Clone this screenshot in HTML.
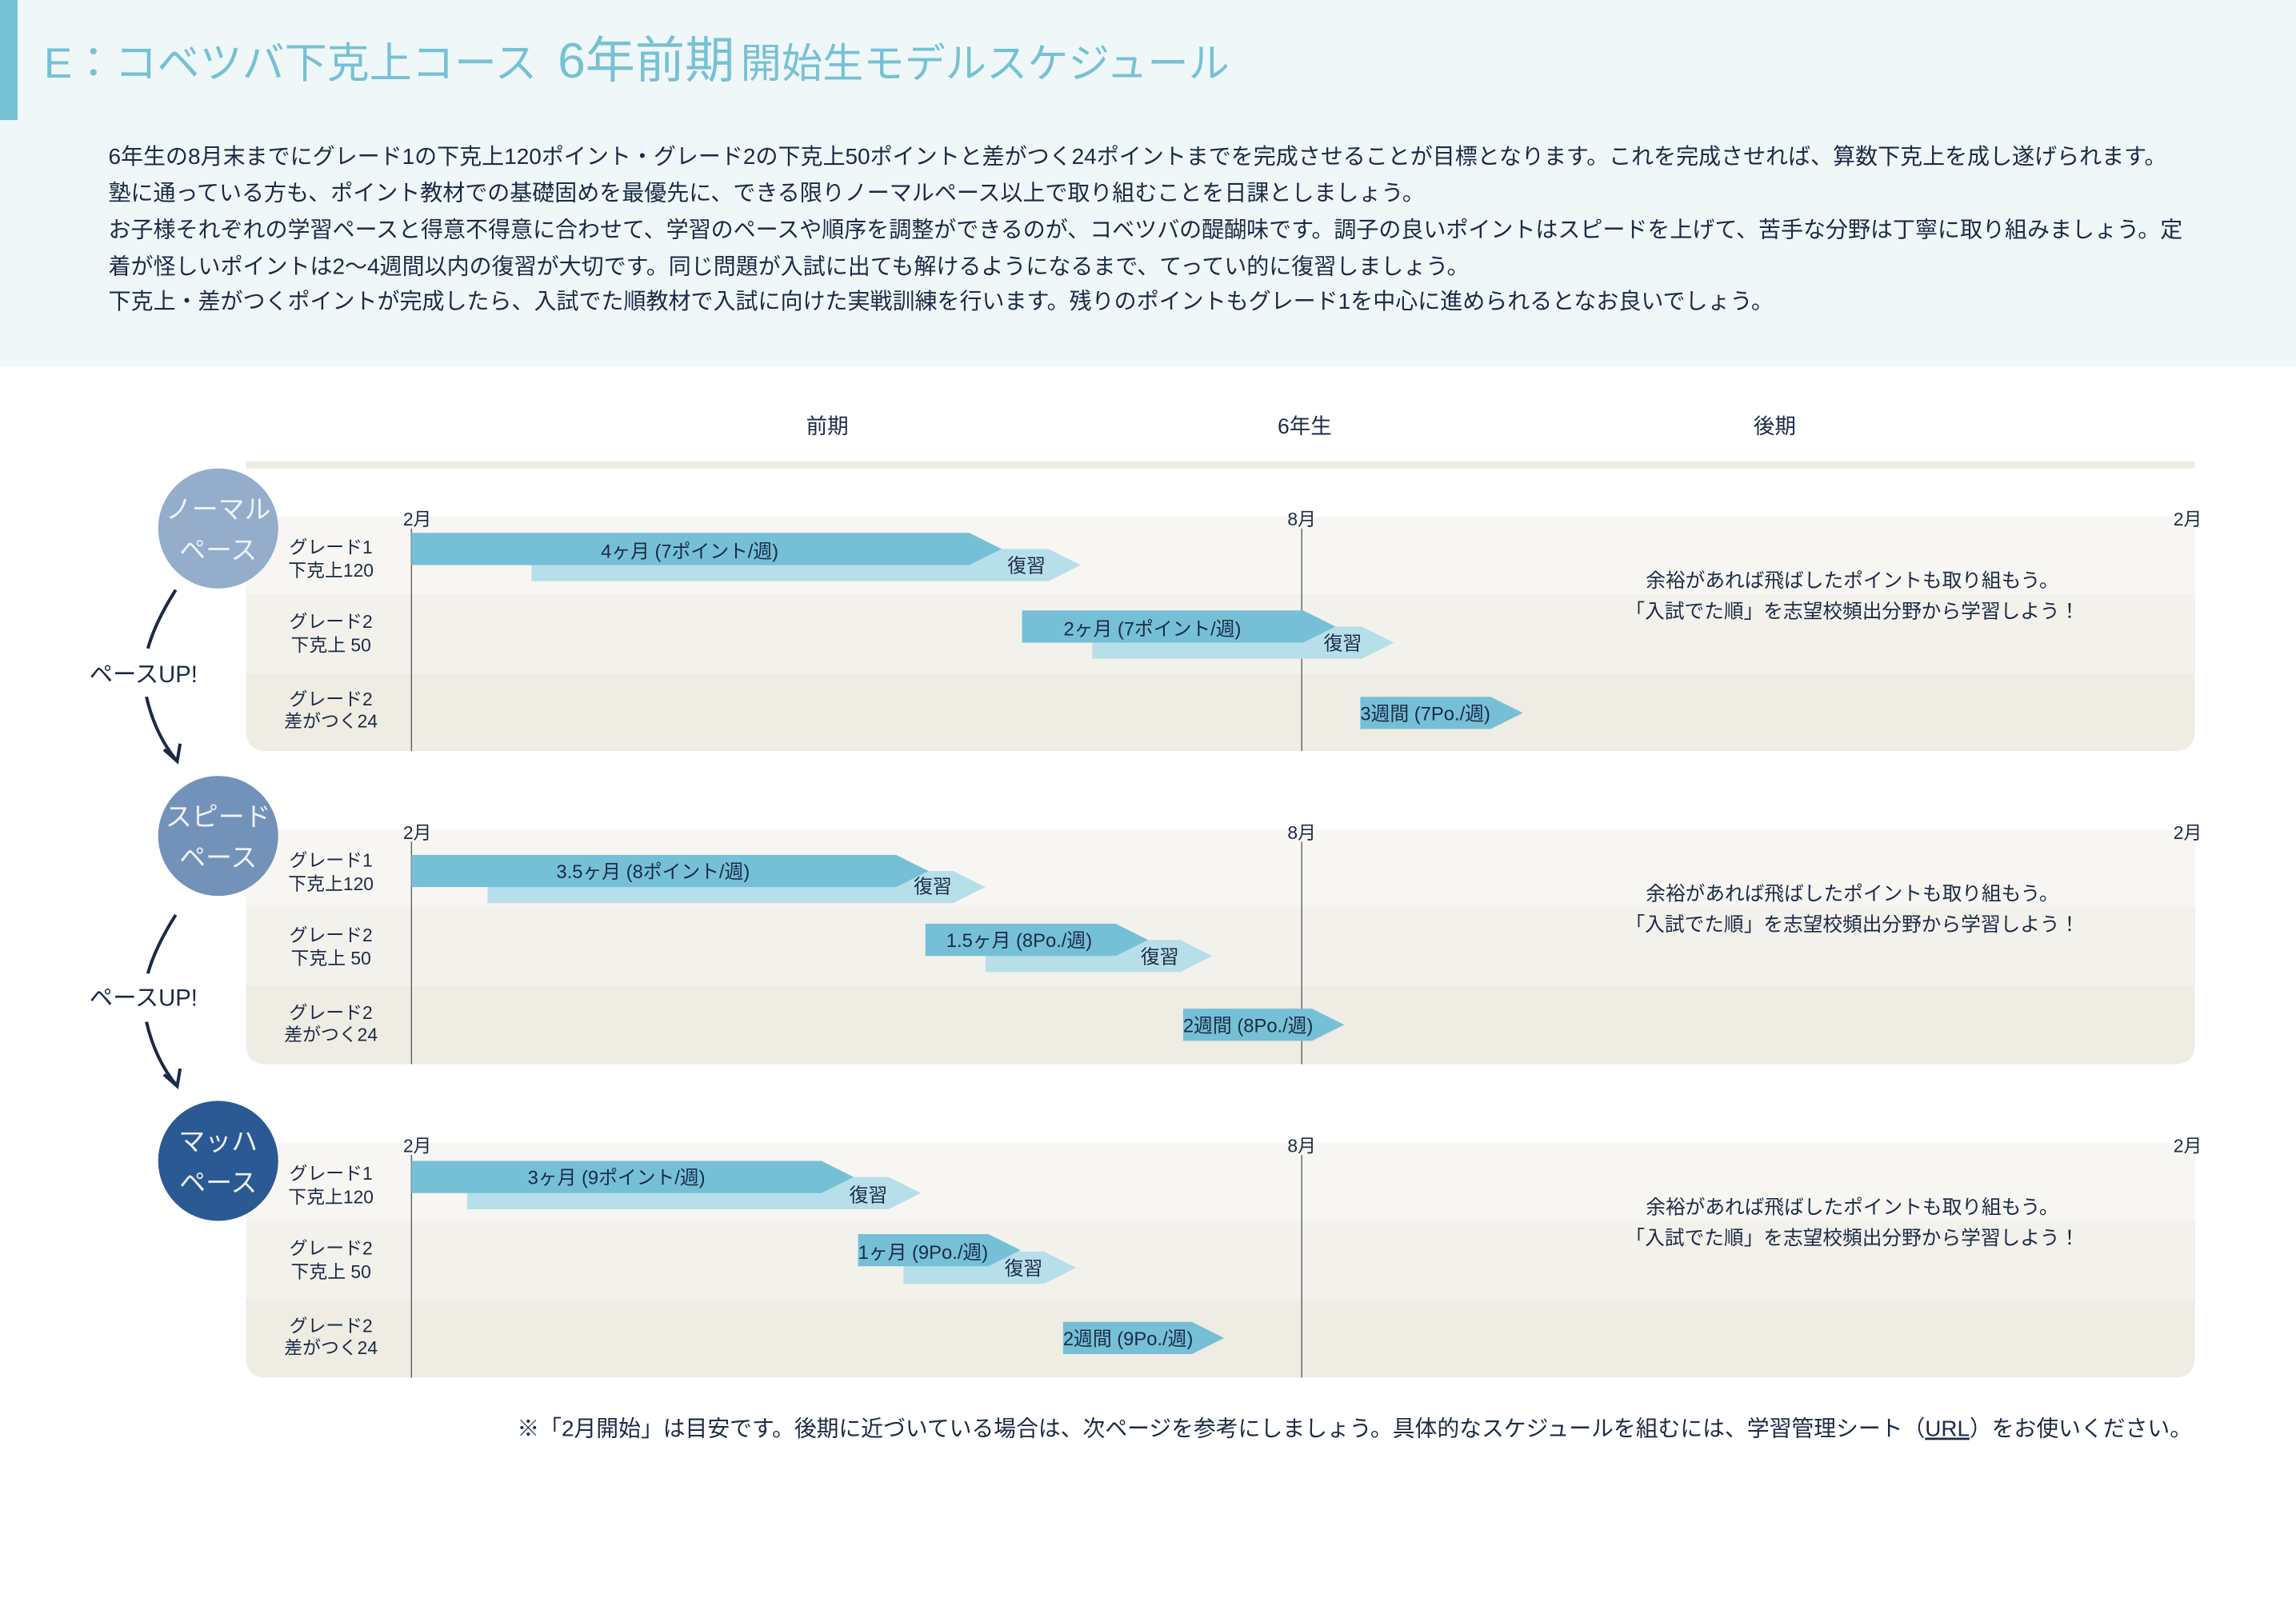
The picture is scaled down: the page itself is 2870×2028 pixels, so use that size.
<!DOCTYPE html>
<html><head><meta charset="utf-8"><style>
html,body{margin:0;padding:0;background:#fff;}
svg{display:block;}
text{font-family:"Liberation Sans","Noto Sans CJK JP",sans-serif;fill:#1b2a45;}
</style></head><body>
<svg width="2870" height="2028" viewBox="0 0 1568 1108" preserveAspectRatio="none" xmlns="http://www.w3.org/2000/svg">
<rect x="0" y="0" width="1568" height="250" fill="#eff7f9"/>
<rect x="0" y="0" width="12" height="82" fill="#76c1d4"/>
<text x="30" y="53" font-size="29" style="fill:#76c1d4">E：コベツバ下克上コース <tspan font-size="34" dx="6">6年前期</tspan><tspan font-size="28" dx="4">開始生モデルスケジュール</tspan></text>
<g font-size="15.3">
<text x="74" y="112">6年生の8月末までにグレード1の下克上120ポイント・グレード2の下克上50ポイントと差がつく24ポイントまでを完成させることが目標となります。これを完成させれば、算数下克上を成し遂げられます。</text>
<text x="74" y="137">塾に通っている方も、ポイント教材での基礎固めを最優先に、できる限りノーマルペース以上で取り組むことを日課としましょう。</text>
<text x="74" y="162">お子様それぞれの学習ペースと得意不得意に合わせて、学習のペースや順序を調整ができるのが、コベツバの醍醐味です。調子の良いポイントはスピードを上げて、苦手な分野は丁寧に取り組みましょう。定</text>
<text x="74" y="187">着が怪しいポイントは2〜4週間以内の復習が大切です。同じ問題が入試に出ても解けるようになるまで、てってい的に復習しましょう。</text>
<text x="74" y="211">下克上・差がつくポイントが完成したら、入試でた順教材で入試に向けた実戦訓練を行います。残りのポイントもグレード1を中心に進められるとなお良いでしょう。</text>
</g>
<g font-size="14.5" text-anchor="middle">
<text x="565" y="296">前期</text><text x="891" y="296">6年生</text><text x="1212" y="296">後期</text>
</g>
<rect x="168" y="315" width="1331" height="5" fill="#efebe3"/>

<defs>
<g id="panel">
<path d="M168 0 H1499 V146 Q1499 160 1485 160 H182 Q168 160 168 146 Z" fill="#efece4"/>
<rect x="168" y="0" width="1331" height="53" fill="#f7f6f2"/>
<rect x="168" y="53" width="1331" height="54" fill="#f3f1ec"/>
<line x1="281" y1="8" x2="281" y2="160" stroke="#666" stroke-width="0.8"/>
<line x1="889" y1="8" x2="889" y2="160" stroke="#666" stroke-width="0.8"/>
<g font-size="12.5" text-anchor="middle">
<text x="285" y="6">2月</text><text x="889" y="6">8月</text><text x="1494" y="6">2月</text>
<text x="226" y="25">グレード1</text><text x="226" y="41">下克上120</text>
<text x="226" y="76">グレード2</text><text x="226" y="92">下克上 50</text>
<text x="226" y="129">グレード2</text><text x="226" y="144">差がつく24</text>
</g>
<g font-size="13.5" text-anchor="middle">
<text x="1265" y="48">余裕があれば飛ばしたポイントも取り組もう。</text>
<text x="1265" y="69">「入試でた順」を志望校頻出分野から学習しよう！</text>
</g>
</g>
</defs>
<use href="#panel" transform="translate(0,353)"/>
<use href="#panel" transform="translate(0,567)"/>
<use href="#panel" transform="translate(0,781)"/>

<g font-size="18" text-anchor="middle">
<circle cx="149" cy="361" r="41" fill="#93adcb"/>
<text x="149" y="354" style="fill:#eef2f7">ノーマル</text><text x="149" y="382" style="fill:#eef2f7">ペース</text>
<circle cx="149" cy="571" r="41" fill="#7392ba"/>
<text x="149" y="564" style="fill:#eef2f7">スピード</text><text x="149" y="592" style="fill:#eef2f7">ペース</text>
<circle cx="149" cy="793" r="41" fill="#2b5994"/>
<text x="149" y="786" style="fill:#eef2f7">マッハ</text><text x="149" y="814" style="fill:#eef2f7">ペース</text>
</g>
<g font-size="16" text-anchor="middle">
<text x="98" y="466">ペースUP!</text><text x="98" y="687">ペースUP!</text>
</g>
<g fill="none" stroke="#1b2a45" stroke-width="2.2">
<path d="M120 403 Q106 425 101 443"/><path d="M100 476 Q106 502 121 520"/><path d="M112 512 L121 520 L123 508"/>
<path d="M120 625 Q106 647 101 665"/><path d="M100 698 Q106 724 121 742"/><path d="M112 734 L121 742 L123 730"/>
</g>

<g fill="#b7dfea">
<polygon points="363,375 716,375 738,386 716,397 363,397"/>
<polygon points="746,428 930,428 952,439 930,450 746,450"/>
<polygon points="333,595 651,595 673,606 651,617 333,617"/>
<polygon points="673,642 806,642 828,653 806,664 673,664"/>
<polygon points="319,804 607,804 629,815 607,826 319,826"/>
<polygon points="617,855 713,855 735,866 713,877 617,877"/>
</g>
<g fill="#75c0d6">
<polygon points="281,364 662,364 684,375 662,386 281,386"/>
<polygon points="698,417 890,417 912,428 890,439 698,439"/>
<polygon points="929,476 1018,476 1040,487 1018,498 929,498"/>
<polygon points="281,584 612,584 634,595 612,606 281,606"/>
<polygon points="632,631 762,631 784,642 762,653 632,653"/>
<polygon points="808,689 896,689 918,700 896,711 808,711"/>
<polygon points="281,793 561,793 583,804 561,815 281,815"/>
<polygon points="586,843 675,843 697,854 675,865 586,865"/>
<polygon points="726,903 814,903 836,914 814,925 726,925"/>
</g>
<g font-size="13">
<text x="471" y="381" text-anchor="middle">4ヶ月 (7ポイント/週)</text>
<text x="701" y="391" text-anchor="middle">復習</text>
<text x="787" y="434" text-anchor="middle">2ヶ月 (7ポイント/週)</text>
<text x="917" y="444" text-anchor="middle">復習</text>
<text x="929" y="492">3週間 (7Po./週)</text>
<text x="446" y="600" text-anchor="middle">3.5ヶ月 (8ポイント/週)</text>
<text x="637" y="610" text-anchor="middle">復習</text>
<text x="696" y="647" text-anchor="middle">1.5ヶ月 (8Po./週)</text>
<text x="792" y="658" text-anchor="middle">復習</text>
<text x="808" y="705">2週間 (8Po./週)</text>
<text x="421" y="809" text-anchor="middle">3ヶ月 (9ポイント/週)</text>
<text x="593" y="821" text-anchor="middle">復習</text>
<text x="586" y="860">1ヶ月 (9Po./週)</text>
<text x="699" y="871" text-anchor="middle">復習</text>
<text x="726" y="919">2週間 (9Po./週)</text>
</g>
<text x="1497" y="981" font-size="15.2" text-anchor="end">※「2月開始」は目安です。後期に近づいている場合は、次ページを参考にしましょう。具体的なスケジュールを組むには、学習管理シート（<tspan text-decoration="underline">URL</tspan>）をお使いください。</text>
</svg>
</body></html>
